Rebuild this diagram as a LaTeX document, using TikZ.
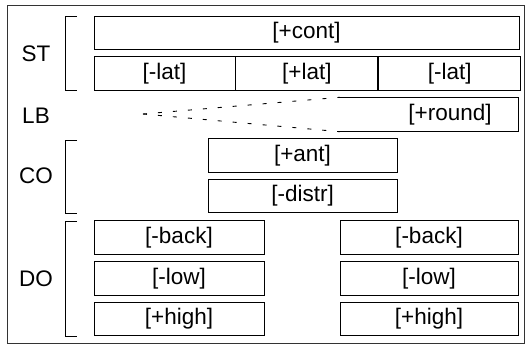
\documentclass[tikz,border=0pt]{standalone}
\usepackage{fontspec}
\setmainfont{Liberation Sans}
\usepackage{tikz}
\usetikzlibrary{positioning}
\tikzset{feat/.style = {draw, line width = 0.9pt, inner sep = 0, minimum height = 33.5pt},
  tier/.style = {inner sep = 0},
  brack/.style = {line width = 0.9pt},
  lbdash/.style = {line width = 0.9pt, dash pattern = on 4pt off 11pt}}

\begin{document}
\begin{tikzpicture}[x=1pt, y=-1pt, font=\fontsize{22.5}{24}\selectfont]
      \useasboundingbox (0, 0) rectangle (529, 346);
      \draw [line width = 0.9pt, black!80] (7, 5) rectangle (524, 343);
      % tier labels
      \foreach \y/\t in {54/ST, 116/LB, 176/CO, 279/DO} {
        \node [tier] (\t) at (36, \y) {\t};
      }
      % brackets
      \foreach \a/\b in {16/90, 140/213, 221/336} {
        \draw [brack] (77, \a) -- (65, \a) -- (65, \b) -- (77, \b);
      }
      % ST
      \node [feat, minimum width = 425] (cont) at (306.5, 33) {[+cont]};
      \node [feat, minimum width = 141] (latA) at (164.5, 73.5) {[-lat]};
      \node [feat, minimum width = 142, right = 0 of latA] (latB) {[+lat]};
      \node [feat, minimum width = 142, right = 0 of latB] (latC) {[-lat]};
      % LB
      \node [tier, minimum width = 178, minimum height = 34] (round) at (429, 114.5) {};
      \node [tier] (roundtxt) at (450, 114.5) {[+round]};
      \draw [brack] (round.north west) -- (round.north east) -- (round.south east) -- (round.south west);
      \coordinate (lbtip) at (143, 114);
      \draw [lbdash] (lbtip) -- (round.north west);
      \draw [lbdash] (lbtip) -- (round.south west);
      % CO
      \node [feat, minimum width = 189] (ant) at (302.5, 155.5) {[+ant]};
      \node [feat, minimum width = 189] (distr) at (302.5, 196) {[-distr]};
      % DO
      \foreach \x/\w/\s in {179/170/L, 429/178/R} {
        \node [feat, minimum width = \w] (back\s) at (\x, 237.5) {[-back]};
        \node [feat, minimum width = \w] (low\s) at (\x, 278.5) {[-low]};
        \node [feat, minimum width = \w] (high\s) at (\x, 319) {[+high]};
      }
    \end{tikzpicture}
\end{document}
